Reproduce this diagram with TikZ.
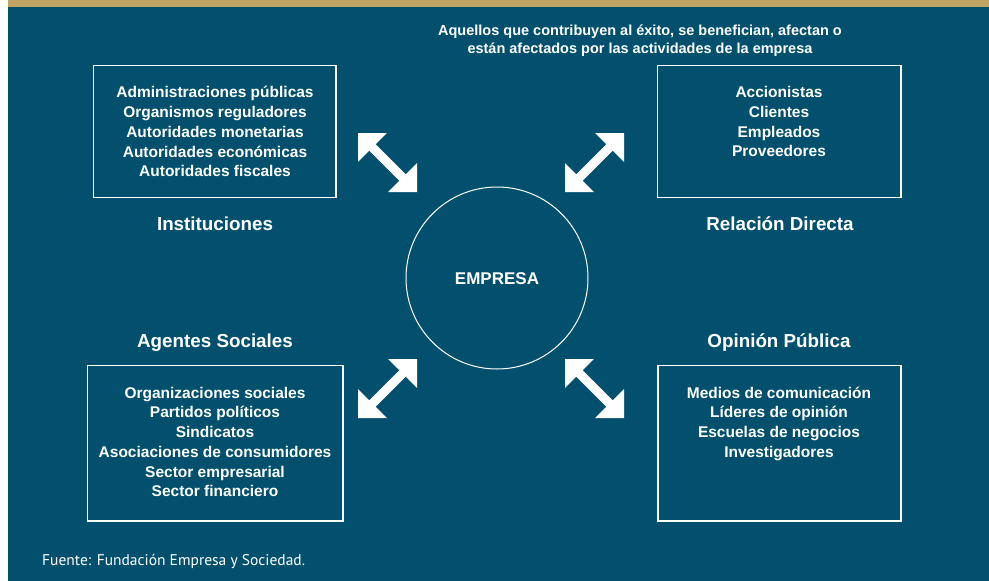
\documentclass[tikz,border=0pt]{standalone}
\usepackage{fontspec}
\setmainfont{Liberation Sans}
\newfontfamily\fuentefont{PT Sans}
\usetikzlibrary{calc}
\definecolor{teal}{HTML}{02506E}
\definecolor{gold}{HTML}{BFA462}
\newcommand\dblarr[2]{%
\fill[white] (#1) -- ($(#1)!20.5pt!(#2)!20.5pt!90:(#2)$) -- ($(#1)!20.5pt!(#2)!4.5pt!90:(#2)$)
 -- ($(#2)!20.5pt!(#1)!4.5pt!-90:(#1)$) -- ($(#2)!20.5pt!(#1)!20.5pt!-90:(#1)$) -- (#2)
 -- ($(#2)!20.5pt!(#1)!20.5pt!90:(#1)$) -- ($(#2)!20.5pt!(#1)!4.5pt!90:(#1)$)
 -- ($(#1)!20.5pt!(#2)!4.5pt!-90:(#2)$) -- ($(#1)!20.5pt!(#2)!20.5pt!-90:(#2)$) -- cycle;}
\tikzset{
  box/.style={draw=white, line width=1.6pt},
  items/.style={text=white, font=\bfseries\fontsize{15.5}{19.7}\selectfont, align=center, anchor=base, inner sep=0pt},
  heading/.style={text=white, font=\bfseries\fontsize{18.8}{22}\selectfont, anchor=base, inner sep=0pt},
}
\begin{document}
\begin{tikzpicture}[x=1pt,y=-1pt]
\useasboundingbox (0,0) rectangle (989,581);
\fill[white] (0,0) rectangle (989,581);
\fill[teal] (8,0) rectangle (989,581);
\fill[gold] (8,0) rectangle (989,7);
% header (anchor base = last line)
\node[text=white, font=\bfseries\fontsize{14.5}{17.6}\selectfont, align=center, anchor=base, inner sep=0pt] (desc) at (640,53.3)
 {Aquellos que contribuyen al éxito, se benefician, afectan o\\están afectados por las actividades de la empresa};
% boxes
\draw[box] (93.5,65.5) rectangle (336,197.5);
\draw[box] (657.5,65.5) rectangle (901,197.5);
\draw[box] (87.5,365.5) rectangle (343,521);
\draw[box] (658,365.5) rectangle (901,521);
\node[items] (inst) at (215,176.7) {Administraciones públicas\\Organismos reguladores\\Autoridades monetarias\\Autoridades económicas\\Autoridades fiscales};
\node[items] (dir) at (779,156.7) {Accionistas\\Clientes\\Empleados\\Proveedores};
\node[items] (soc) at (215,496.7) {Organizaciones sociales\\Partidos políticos\\Sindicatos\\Asociaciones de consumidores\\Sector empresarial\\Sector financiero};
\node[items] (op) at (779,457.2) {Medios de comunicación\\Líderes de opinión\\Escuelas de negocios\\Investigadores};
% headings
\node[heading] (hinst) at (215,230.7) {Instituciones};
\node[heading] (hdir) at (780,230.7) {Relación Directa};
\node[heading] (hsoc) at (215,347.7) {Agentes Sociales};
\node[heading] (hop) at (779,347.7) {Opinión Pública};
% centre
\node[circle, draw=white, line width=1pt, minimum size=182pt, inner sep=0pt] (emp) at (497,278) {};
\node[text=white, font=\bfseries\fontsize{17}{20}\selectfont, anchor=base, inner sep=0pt] (emptxt) at (497,284) {EMPRESA};
% arrows
\coordinate (tl1) at (358,133); \coordinate (tl2) at (417,192);
\coordinate (tr1) at (624,133); \coordinate (tr2) at (565,192);
\coordinate (bl1) at (358,418); \coordinate (bl2) at (417,359);
\coordinate (br1) at (624,418); \coordinate (br2) at (565,359);
\dblarr{tl1}{tl2}
\dblarr{tr1}{tr2}
\dblarr{bl1}{bl2}
\dblarr{br1}{br2}
% source
\node[text=white, font=\fuentefont\fontsize{15.5}{18}\selectfont, anchor=base west, inner sep=0pt] (src) at (42,565.7) {Fuente: Fundación Empresa y Sociedad.};
\end{tikzpicture}
\end{document}
